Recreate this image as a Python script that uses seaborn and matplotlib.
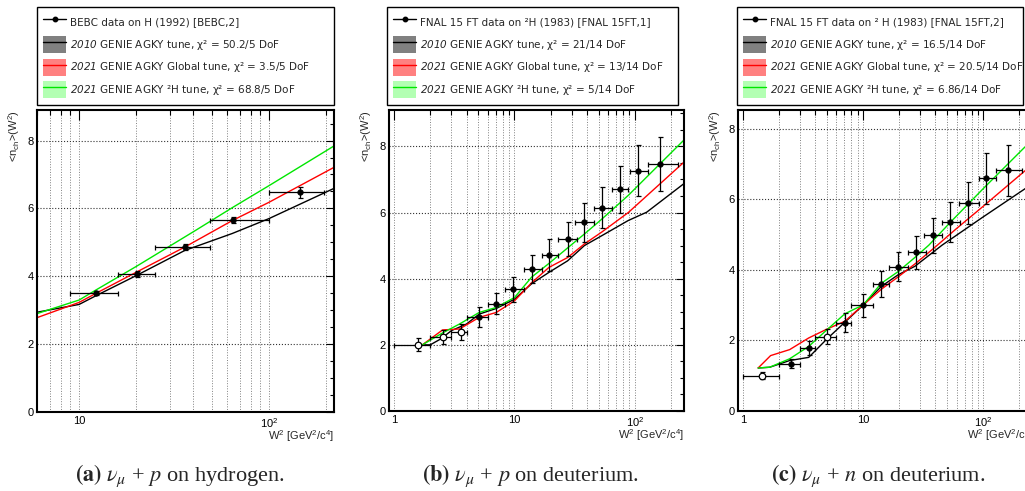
import numpy as np
import pandas as pd
import matplotlib
matplotlib.use("Agg")
import matplotlib.pyplot as plt
import seaborn as sns
from matplotlib.lines import Line2D
from matplotlib.patches import Patch
from matplotlib.legend_handler import HandlerTuple
from matplotlib.ticker import MultipleLocator, FixedLocator, NullFormatter
from matplotlib.font_manager import FontProperties

# ---------------- data ----------------
# (a) nu_mu + p on hydrogen (BEBC)
a_x = [12.3, 20.1, 36.1, 64.4, 145]
a_xlo = [9, 16, 25, 49, 100]
a_xhi = [16, 25, 49, 100, 196]
a_y = [3.51, 4.07, 4.86, 5.67, 6.47]
a_yerr = [0.05, 0.09, 0.08, 0.09, 0.16]
a_open = [False, False, False, False, False]
a_black_x = [6, 10, 12.3, 20, 36, 64, 100, 220]
a_black_y = [2.94, 3.17, 3.43, 4.02, 4.76, 5.26, 5.70, 6.59]
a_red_x = [6, 10, 12.3, 20, 36, 64, 100, 220]
a_red_y = [2.78, 3.23, 3.50, 4.12, 4.86, 5.64, 6.18, 7.21]
a_green_x = [6, 10, 12.3, 20, 41, 64, 100, 220]
a_green_y = [2.90, 3.30, 3.60, 4.29, 5.35, 6.02, 6.67, 7.84]

# (b) nu_mu + p on deuterium (FNAL 15FT,1)
b_x = [1.59, 2.53, 3.6, 5.1, 7.07, 9.8, 13.9, 19.3, 27.6, 38.0, 52.9, 75.1, 106.6, 161]
b_xlo = [1.0, 2.0, 3.0, 4.0, 6.0, 8.4, 11.9, 16.8, 23.0, 31.8, 46, 64, 91, 128]
b_xhi = [2.0, 3.0, 4.0, 6.0, 8.4, 11.9, 16.8, 23.0, 32.9, 46, 64, 88, 128, 228]
b_y = [2.0, 2.23, 2.4, 2.83, 3.25, 3.68, 4.3, 4.72, 5.2, 5.7, 6.15, 6.7, 7.27, 7.47]
b_yerr = [0.2, 0.21, 0.24, 0.3, 0.33, 0.37, 0.43, 0.48, 0.52, 0.58, 0.63, 0.7, 0.78, 0.82]
b_open = [True, True, True] + [False] * 11
b_black_x = [1.72, 2.0, 2.45, 3.0, 4.0, 5.1, 7.07, 10, 13.9, 19.3, 27.6, 38, 53, 88, 125, 256]
b_black_y = [2.0, 2.0, 2.18, 2.43, 2.63, 2.93, 3.1, 3.38, 3.85, 4.19, 4.54, 5.0, 5.3, 5.76, 6.01, 6.88]
b_red_x = [1.72, 2.53, 3.5, 5.1, 7.07, 10, 13.9, 19.3, 27.6, 38, 53, 88, 256]
b_red_y = [2.0, 2.45, 2.48, 2.83, 2.98, 3.33, 3.88, 4.34, 4.64, 5.05, 5.41, 6.0, 7.53]
b_green_x = [1.72, 2.53, 3.5, 5.1, 7.07, 10, 13.9, 19.3, 27.6, 38, 53, 88, 256]
b_green_y = [2.0, 2.36, 2.63, 2.98, 3.13, 3.43, 4.05, 4.46, 4.93, 5.35, 5.8, 6.52, 8.2]

# (c) nu_mu + n on deuterium (FNAL 15FT,2)
c_x = [1.45, 2.49, 3.53, 5.0, 7.03, 10.0, 14.2, 19.6, 27.8, 38.2, 53.4, 75, 106.6, 162]
c_xlo = [1.0, 2.0, 3.0, 4.0, 6.0, 8.0, 12.1, 16.5, 23.7, 31.9, 45.5, 63.5, 92, 127]
c_xhi = [2.0, 3.0, 4.0, 6.0, 8.0, 12.1, 16.5, 23.7, 33.2, 45.5, 64.7, 92, 127, 211]
c_y = [1.0, 1.34, 1.78, 2.11, 2.5, 2.99, 3.6, 4.09, 4.5, 4.98, 5.36, 5.9, 6.59, 6.82]
c_yerr = [0.1, 0.12, 0.19, 0.2, 0.27, 0.33, 0.37, 0.41, 0.47, 0.5, 0.56, 0.6, 0.71, 0.72]
c_open = [True, False, False, True] + [False] * 10
c_black_x = [1.34, 1.67, 2.45, 3.53, 5.0, 7.03, 10, 14.2, 19.6, 27, 45.5, 100, 260]
c_black_y = [1.22, 1.24, 1.43, 1.52, 2.04, 2.51, 3.0, 3.53, 3.86, 4.1, 4.7, 5.5, 6.45]
c_red_x = [1.34, 1.70, 2.45, 3.53, 5.0, 7.03, 10, 14.2, 19.6, 27.8, 40, 60, 100, 260]
c_red_y = [1.22, 1.57, 1.74, 2.07, 2.32, 2.54, 3.0, 3.45, 3.8, 4.2, 4.65, 5.17, 5.8, 7.0]
c_green_x = [1.34, 1.67, 2.45, 3.53, 5.0, 7.03, 8.5, 10, 14.2, 19.6, 27, 35.3, 53.4, 100, 218, 260]
c_green_y = [1.22, 1.24, 1.48, 1.83, 2.3, 2.75, 2.89, 3.0, 3.62, 3.95, 4.35, 4.7, 5.35, 6.3, 7.45, 7.7]

# legend texts
a_labels = ["BEBC data on H (1992) [BEBC,2]",
            r"$\mathsf{2010}$ GENIE AGKY tune, χ² = 50.2/5 DoF",
            r"$\mathsf{2021}$ GENIE AGKY Global tune, χ² = 3.5/5 DoF",
            r"$\mathsf{2021}$ GENIE AGKY ²H tune, χ² = 68.8/5 DoF"]
b_labels = ["FNAL 15 FT data on ²H (1983) [FNAL 15FT,1]",
            r"$\mathsf{2010}$ GENIE AGKY tune, χ² = 21/14 DoF",
            r"$\mathsf{2021}$ GENIE AGKY Global tune, χ² = 13/14 DoF",
            r"$\mathsf{2021}$ GENIE AGKY ²H tune, χ² = 5/14 DoF"]
c_labels = ["FNAL 15 FT data on ² H (1983) [FNAL 15FT,2]",
            r"$\mathsf{2010}$ GENIE AGKY tune, χ² = 16.5/14 DoF",
            r"$\mathsf{2021}$ GENIE AGKY Global tune, χ² = 20.5/14 DoF",
            r"$\mathsf{2021}$ GENIE AGKY ²H tune, χ² = 6.86/14 DoF"]
captions = [r"$\mathbf{(a)}$ $\nu_{\mu}$ + $p$ on hydrogen.",
            r"$\mathbf{(b)}$ $\nu_{\mu}$ + $p$ on deuterium.",
            r"$\mathbf{(c)}$ $\nu_{\mu}$ + $n$ on deuterium."]
x_ticks = [1, 10, 100]
x_ticklabels = ["1", "10", r"$10^{2}$"]
y_ticks = [0, 2, 4, 6, 8]

# ---------------- style ----------------
sns.set_theme(style="white")
plt.rcParams["font.family"] = ["Liberation Sans", "DejaVu Sans"]
plt.rcParams["mathtext.fontset"] = "custom"
plt.rcParams["mathtext.rm"] = "Liberation Sans"
plt.rcParams["mathtext.it"] = "Liberation Sans:italic"
plt.rcParams["mathtext.bf"] = "Liberation Sans:bold"
plt.rcParams["mathtext.sf"] = "DejaVu Sans:italic"

W, H = 1025, 491
fig = plt.figure(figsize=(W / 100, H / 100), dpi=100)
fig.patch.set_facecolor("white")

model_cols = ["black", "#ff0000", "#00e600"]
band_cols = ["#808080", "#ff8080", "#b3ffb3"]


def px_axes(l, t, r, b):
    return fig.add_axes([l / W, 1 - b / H, (r - l) / W, (b - t) / H])


panels = [
    dict(box=(37, 110, 334, 412), xlim=(6, 220), ylim=(0, 8.9),
         data=(a_x, a_xlo, a_xhi, a_y, a_yerr, a_open),
         models=[(a_black_x, a_black_y), (a_red_x, a_red_y), (a_green_x, a_green_y)],
         labels=a_labels, leg=(37, 7, 334, 106), cap_x=180),
    dict(box=(389, 110, 684, 411), xlim=(0.91, 255), ylim=(0, 9.1),
         data=(b_x, b_xlo, b_xhi, b_y, b_yerr, b_open),
         models=[(b_black_x, b_black_y), (b_red_x, b_red_y), (b_green_x, b_green_y)],
         labels=b_labels, leg=(387, 7, 678, 106), cap_x=530),
    dict(box=(738, 110, 1033, 411), xlim=(0.91, 260), ylim=(0, 8.53),
         data=(c_x, c_xlo, c_xhi, c_y, c_yerr, c_open),
         models=[(c_black_x, c_black_y), (c_red_x, c_red_y), (c_green_x, c_green_y)],
         labels=c_labels, leg=(737, 7, 1023, 106), cap_x=878),
]

leg_font = FontProperties(family="DejaVu Sans", size=7.5, math_fontfamily="custom")
cap_font = FontProperties(family="Liberation Serif", size=16, math_fontfamily="stix")

for i, p in enumerate(panels):
    ax = px_axes(*p["box"])
    ax.set_facecolor("white")
    ax.set_xscale("log")

    # model curves
    for (mx, my), col in zip(p["models"], model_cols):
        df = pd.DataFrame({"W2": mx, "n": my})
        sns.lineplot(data=df, x="W2", y="n", ax=ax, color=col, lw=1.0,
                     estimator=None, sort=False, legend=False, zorder=2)

    # data
    x, xlo, xhi, y, yerr, op = [np.asarray(v) for v in p["data"]]
    ax.errorbar(x, y, xerr=[x - xlo, xhi - x], yerr=yerr, fmt="none",
                ecolor="black", elinewidth=0.9, capsize=1.8, capthick=0.9, zorder=3)
    dd = pd.DataFrame({"W2": x, "n": y, "open": op})
    sns.scatterplot(data=dd[~dd["open"]], x="W2", y="n", ax=ax, color="black",
                    s=16, edgecolor="black", linewidth=0.5, zorder=4, legend=False)
    if dd["open"].any():
        sns.scatterplot(data=dd[dd["open"]], x="W2", y="n", ax=ax, color="white",
                        s=22, edgecolor="black", linewidth=0.9, zorder=4, legend=False)

    # ticks
    ax.set_xticks(x_ticks)
    ax.set_xticklabels(x_ticklabels)
    minors = [m * 10 ** e for e in range(-1, 3) for m in range(2, 10)]
    ax.xaxis.set_minor_locator(FixedLocator(minors))
    ax.xaxis.set_minor_formatter(NullFormatter())
    ax.yaxis.set_major_locator(FixedLocator(y_ticks))
    ax.yaxis.set_minor_locator(MultipleLocator(0.5))
    ax.set_xlim(*p["xlim"])
    ax.set_ylim(*p["ylim"])
    ax.tick_params(axis="both", which="both", direction="in", top=True, right=True,
                   labelsize=8, colors="black", width=0.8)
    ax.tick_params(axis="x", which="major", length=7, pad=3)
    ax.tick_params(axis="x", which="minor", length=3.5)
    ax.tick_params(axis="y", which="major", length=6, pad=2.5)
    ax.tick_params(axis="y", which="minor", length=3)

    ax.grid(which="both", axis="x", ls=":", color="0.5", lw=0.7)
    ax.grid(which="major", axis="y", ls=":", color="0.2", lw=0.8)
    ax.set_axisbelow(True)
    for s in ax.spines.values():
        s.set_visible(True)
        s.set_color("black")
        s.set_linewidth(1.5)

    ax.set_xlabel(r"W$^{2}$ [GeV$^{2}$/c$^{4}$]", fontsize=8, loc="right")
    ax.xaxis.set_label_coords(1.0, -0.055)
    ax.set_ylabel(r"<n$_{\mathrm{ch}}$>(W$^{2}$)", fontsize=8, loc="top")
    ax.yaxis.set_label_coords(-0.05, 1.0)

    # legend
    handles = [Line2D([], [], color="black", marker="o", markersize=3.2, lw=1.0)]
    for bc, mc in zip(band_cols, model_cols):
        handles.append((Patch(facecolor=bc, edgecolor="none"),
                        Line2D([], [], color=mc, lw=1.0)))
    l, t, r, b = p["leg"]
    leg = fig.legend(handles, p["labels"], loc="upper left",
                     bbox_to_anchor=(l / W, 1 - b / H, (r - l) / W, (b - t) / H),
                     bbox_transform=fig.transFigure, mode="expand",
                     prop=leg_font, frameon=True, fancybox=False, framealpha=1,
                     edgecolor="black", borderpad=0.6, labelspacing=0.55,
                     handlelength=2.2, handleheight=2.13, handletextpad=0.4,
                     borderaxespad=0,
                     handler_map={tuple: HandlerTuple(ndivide=1, pad=0)})
    leg.get_frame().set_linewidth(1.0)

    fig.text(p["cap_x"] / W, 1 - 481 / H, captions[i], ha="center", va="baseline",
             fontproperties=cap_font)

fig.savefig("out.png", dpi=100, facecolor="white")
